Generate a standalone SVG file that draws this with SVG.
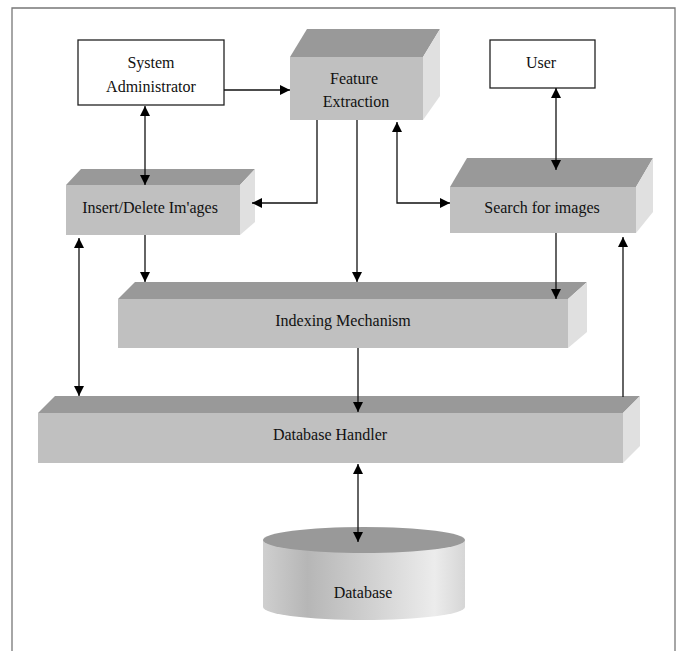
<svg xmlns="http://www.w3.org/2000/svg" width="677" height="651" viewBox="0 0 677 651">
<style>
text{font-family:'Liberation Serif','Times New Roman','DejaVu Serif',serif;font-size:16px;fill:#111;text-anchor:middle}
.top{fill:#999999}
.front{fill:#c0c0c0}
.side{fill:#e0e0e0}
.box{fill:#fff;stroke:#222;stroke-width:1.3}
.conn path{fill:none;stroke:#111;stroke-width:1.3}
</style>
<defs>
<marker id="ah" viewBox="0 0 10 10" refX="10" refY="5" markerWidth="10" markerHeight="10" markerUnits="userSpaceOnUse" orient="auto-start-reverse">
<path d="M0,0 L10,5 L0,10 z" fill="#000"/>
</marker>
<linearGradient id="cyl" x1="0" y1="0" x2="1" y2="0">
<stop offset="0" stop-color="#cfcfcf"/>
<stop offset="0.22" stop-color="#b6b6b6"/>
<stop offset="0.55" stop-color="#d2d2d2"/>
<stop offset="0.85" stop-color="#ececec"/>
<stop offset="1" stop-color="#d6d6d6"/>
</linearGradient>
</defs>
<rect width="677" height="651" fill="#fff"/>
<path d="M12,651 V8 H675 V651" fill="none" stroke="#777" stroke-width="1.3"/>

<g font-family="Liberation Serif, Times New Roman, serif">
<g id="sysadmin">
<rect class="box" x="78" y="40" width="146" height="65"/>
<text x="151" y="68">System</text>
<text x="151" y="92">Administrator</text>
</g>

<g id="user">
<rect class="box" x="490" y="40" width="105" height="48"/>
<text x="541" y="68">User</text>
</g>

<g id="feature">
<polygon class="top" points="290,57 307,29 440,29 423,57"/>
<polygon class="side" points="423,57 440,29 440,96 423,120"/>
<rect class="front" x="290" y="57" width="133" height="63"/>
<text x="354" y="84">Feature</text>
<text x="356" y="107">Extraction</text>
</g>

<g id="insert">
<polygon class="top" points="66,185 81,169 255,169 240,185"/>
<polygon class="side" points="240,185 255,169 255,222 240,235"/>
<rect class="front" x="66" y="185" width="174" height="50"/>
<text x="150" y="213">Insert/Delete Im'ages</text>
</g>

<g id="search">
<polygon class="top" points="450,187 467,158 653,158 636,187"/>
<polygon class="side" points="636,187 653,158 653,212 636,233"/>
<rect class="front" x="450" y="187" width="186" height="46"/>
<text x="542" y="213">Search for images</text>
</g>

<g id="indexing">
<polygon class="top" points="118,299 135,282 587,282 568,299"/>
<polygon class="side" points="568,299 587,282 587,332 568,348"/>
<rect class="front" x="118" y="299" width="450" height="49"/>
<text x="343" y="326">Indexing Mechanism</text>
</g>

<g id="dbhandler">
<polygon class="top" points="38,413 55,396 640,396 623,413"/>
<polygon class="side" points="623,413 640,396 640,446 623,463"/>
<rect class="front" x="38" y="413" width="585" height="50"/>
<text x="330" y="440">Database Handler</text>
</g>

<g id="database">
<path d="M263,540 V607 A101,13 0 0 0 465,607 V540 Z" fill="url(#cyl)"/>
<ellipse cx="364" cy="540" rx="101" ry="13" fill="#999999"/>
<text x="363" y="598">Database</text>
</g>
</g>

<g class="conn" id="connectors">
<path d="M224,90 H290" marker-end="url(#ah)"/>
<path d="M145,106 V185" marker-start="url(#ah)" marker-end="url(#ah)"/>
<path d="M317,120 V203 H252" marker-end="url(#ah)"/>
<path d="M397,122 V203 H450" marker-start="url(#ah)" marker-end="url(#ah)"/>
<path d="M357,120 V282" marker-end="url(#ah)"/>
<path d="M556,88 V170" marker-start="url(#ah)" marker-end="url(#ah)"/>
<path d="M145,235 V282" marker-end="url(#ah)"/>
<path d="M79,238 V396" marker-start="url(#ah)" marker-end="url(#ah)"/>
<path d="M556,233 V299" marker-end="url(#ah)"/>
<path d="M358,348 V412" marker-end="url(#ah)"/>
<path d="M623,397 V237" marker-end="url(#ah)"/>
<path d="M358,464 V542" marker-start="url(#ah)" marker-end="url(#ah)"/>
</g>
</svg>
